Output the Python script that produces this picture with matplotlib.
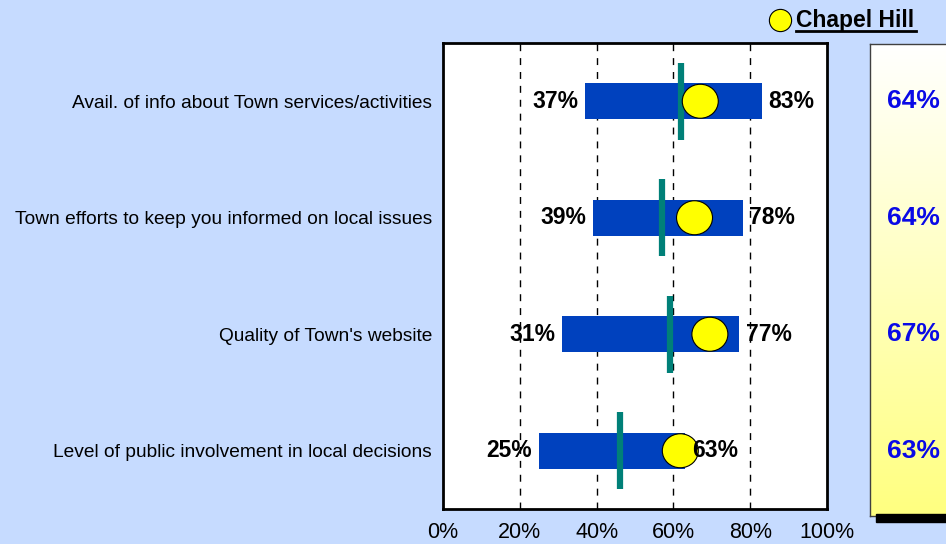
import numpy as np
import matplotlib.pyplot as plt
from matplotlib.lines import Line2D
from matplotlib.patches import Rectangle, Ellipse

plt.rcParams['font.family'] = ['Liberation Sans', 'DejaVu Sans']

categories = ['Avail. of info about Town services/activities',
              'Town efforts to keep you informed on local issues',
              "Quality of Town's website",
              'Level of public involvement in local decisions']
low = [0.37, 0.39, 0.31, 0.25]
high = [0.83, 0.78, 0.77, 0.63]
median = [0.62, 0.57, 0.59, 0.46]
town = [0.67, 0.655, 0.695, 0.618]
town_labels = ['64%', '64%', '67%', '63%']
ticks = [0, 0.2, 0.4, 0.6, 0.8, 1.0]
tick_labels = ['0%', '20%', '40%', '60%', '80%', '100%']

bg = '#C6DBFF'
W, H = 946, 544
fig = plt.figure(figsize=(W / 100, H / 100), dpi=100, facecolor=bg)

ax = fig.add_axes([443 / W, (H - 509) / H, 384 / W, 466 / H])
ax.set_facecolor('white')
ax.set_xlim(0, 1)
ax.set_ylim(0, 4)
ypos = [3.5, 2.5, 1.5, 0.5]

for g in ticks[1:-1]:
    ax.axvline(g, color='black', lw=1, ls=(0, (5, 5)), zorder=1)

ax.barh(ypos, np.array(high) - np.array(low), left=low, height=0.31,
        color='#0041BE', zorder=2)
ax.vlines(median, np.array(ypos) - 0.33, np.array(ypos) + 0.33,
          color='#008078', lw=4.5, zorder=3)
# yellow markers, slightly wider than tall like the original
for x, y in zip(town, ypos):
    ax.add_patch(Ellipse((x, y), 36 / 384, 34 / 466 * 4, fc='#FFFF00',
                         ec='black', lw=0.8, zorder=4))

for y, lo, hi in zip(ypos, low, high):
    ax.annotate('%d%%' % round(lo * 100), (lo, y), xytext=(-5, 0),
                textcoords='offset points', ha='right', va='center',
                fontsize=16.5, fontweight='bold', zorder=5)
    ax.annotate('%d%%' % round(hi * 100), (hi, y), xytext=(5, 0),
                textcoords='offset points', ha='left', va='center',
                fontsize=16.5, fontweight='bold', zorder=5)

ax.set_xticks(ticks)
ax.set_xticklabels(tick_labels, fontsize=15.5)
ax.set_yticks(ypos)
ax.set_yticklabels(categories, fontsize=13.8)
ax.tick_params(length=0, pad=8)
ax.tick_params(axis='x', pad=9)
for s in ax.spines.values():
    s.set_linewidth(2)

# right panel with gradient
shadow = Rectangle((876 / W, (H - 522) / H), 200 / W, 8 / H,
                   transform=fig.transFigure, color='black', zorder=0)
fig.patches.append(shadow)
pax = fig.add_axes([870 / W, (H - 516) / H, 200 / W, 472 / H])
grad = np.linspace(0, 1, 256).reshape(-1, 1)
c_top = np.array([1.0, 1.0, 1.0])
c_bot = np.array([1.0, 1.0, 0.5])
img = c_top + (c_bot - c_top) * grad[:, :, None]
pax.imshow(img, aspect='auto', extent=[0, 1, 0, 1], origin='upper')
pax.set_xlim(0, 1)
pax.set_ylim(0, 1)
pax.set_xticks([])
pax.set_yticks([])
for s in pax.spines.values():
    s.set_linewidth(1)
    s.set_color('#404040')

for y, lab in zip(ypos, town_labels):
    yf = (H - 509) / H + y / 4 * 466 / H
    fig.text(913 / W, yf, lab, ha='center', va='center', fontsize=19,
             fontweight='bold', color='#0A0AE6')

# legend
fig.add_artist(Line2D([780 / W], [(H - 20) / H], marker='o', ms=16,
                      mfc='#FFFF00', mec='black', mew=0.8,
                      transform=fig.transFigure))
fig.text(796 / W, (H - 20) / H, 'Chapel Hill', ha='left', va='center',
         fontsize=16.5, fontweight='bold')
fig.add_artist(Line2D([796 / W, 916 / W], [(H - 31) / H, (H - 31) / H],
                      color='black', lw=2, transform=fig.transFigure))

fig.savefig('out.png', dpi=100, facecolor=bg)
